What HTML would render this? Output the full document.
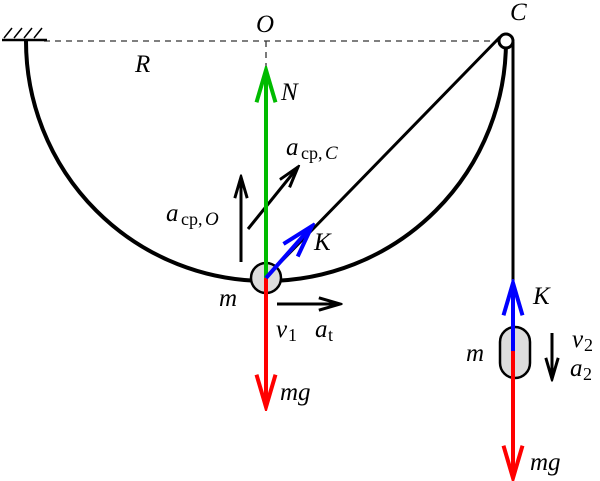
<!DOCTYPE html>
<html><head><style>body{margin:0;background:#fff}svg{display:block}text{font-family:"Liberation Serif",serif;font-style:italic;font-size:25px}.s{font-style:normal;font-size:18px}</style></head><body>
<svg width="600" height="481" viewBox="0 0 600 481">
<defs>
<marker id="a" viewBox="0 0 20 12" refX="18" refY="6" markerWidth="9.5" markerHeight="6" orient="auto" markerUnits="strokeWidth"><path d="M1,1 L18,6 L1,11" fill="none" stroke="context-stroke" stroke-width="2.1"/></marker>
<marker id="b" viewBox="0 0 20 12" refX="18" refY="6" markerWidth="8.3" markerHeight="5" orient="auto" markerUnits="strokeWidth"><path d="M1,1 L18,6 L1,11" fill="none" stroke="context-stroke" stroke-width="2.4"/></marker>
</defs>
<line x1="44" y1="41" x2="500" y2="41" stroke="#333" stroke-width="1.3" stroke-dasharray="6,5"/>
<line x1="266" y1="41" x2="266" y2="72" stroke="#333" stroke-width="1.3" stroke-dasharray="6,5"/>
<line x1="2" y1="40" x2="47" y2="40" stroke="#000" stroke-width="2.5"/>
<path d="M4,38 L12,28 M14,38 L22,28 M24,38 L32,28 M34,38 L42,28" stroke="#000" stroke-width="1.5"/>
<path d="M26,41 A240,240 0 0 0 506,41" fill="none" stroke="#000" stroke-width="4"/>
<line x1="271" y1="272" x2="500" y2="37" stroke="#000" stroke-width="3"/>
<line x1="513" y1="42" x2="513" y2="290" stroke="#000" stroke-width="3"/>
<circle cx="506" cy="41" r="7" fill="#fff" stroke="#000" stroke-width="3"/>
<line x1="241" y1="262" x2="241" y2="177" stroke="#000" stroke-width="3" marker-end="url(#b)"/>
<line x1="248" y1="229" x2="298" y2="167" stroke="#000" stroke-width="3" marker-end="url(#b)"/>
<line x1="277" y1="304" x2="340" y2="304" stroke="#000" stroke-width="3" marker-end="url(#b)"/>
<line x1="552" y1="333" x2="552" y2="379" stroke="#000" stroke-width="3" marker-end="url(#b)"/>
<rect x="500" y="327" width="30" height="51" rx="15" fill="#ddd" stroke="#000" stroke-width="2.5"/>
<circle cx="266" cy="278" r="15" fill="#ddd" stroke="#000" stroke-width="2.5"/>
<line x1="266" y1="278" x2="266" y2="70" stroke="#00bb00" stroke-width="4" marker-end="url(#a)"/>
<line x1="266" y1="278" x2="266" y2="407" stroke="#f00" stroke-width="4" marker-end="url(#a)"/>
<line x1="266" y1="278" x2="312" y2="226" stroke="#00f" stroke-width="4" marker-end="url(#a)"/>
<line x1="513" y1="351" x2="513" y2="283" stroke="#00f" stroke-width="4" marker-end="url(#a)"/>
<line x1="513" y1="351" x2="513" y2="478" stroke="#f00" stroke-width="4" marker-end="url(#a)"/>
<text x="256" y="32">O</text><text x="510" y="20">C</text><text x="135" y="72">R</text>
<text x="281" y="100">N</text><text x="314" y="250">K</text><text x="533" y="304">K</text>
<text x="286" y="155">a</text><text class="s" x="301" y="159">cp,</text><text x="325" y="159" style="font-size:19px">C</text>
<text x="166" y="221">a</text><text class="s" x="181" y="225">cp,</text><text x="205" y="225" style="font-size:19px">O</text>
<text x="219" y="306">m</text><text x="466" y="361">m</text>
<text x="276" y="337">v</text><text class="s" x="288" y="341">1</text>
<text x="315" y="337">a</text><text class="s" x="328" y="341">t</text>
<text x="572" y="347">v</text><text class="s" x="584" y="351">2</text>
<text x="570" y="376">a</text><text class="s" x="583" y="380">2</text>
<text x="280" y="400">mg</text><text x="530" y="470">mg</text>
</svg></body></html>
